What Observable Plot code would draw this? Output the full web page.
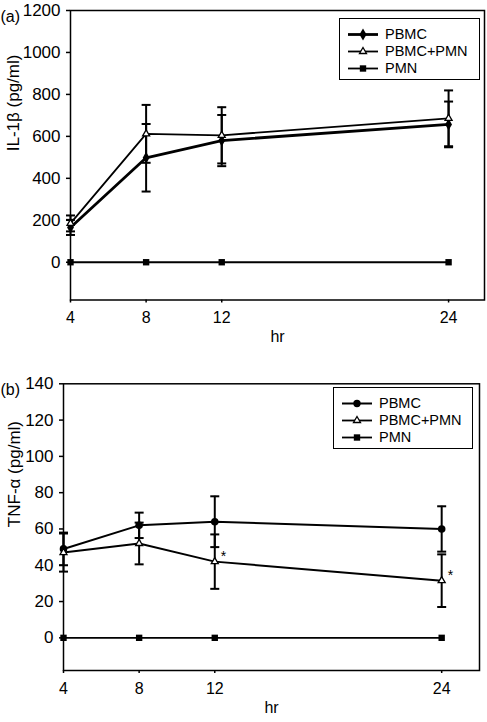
<!DOCTYPE html>
<html><head><meta charset="utf-8">
<script src="https://cdn.jsdelivr.net/npm/d3@7"></script>
<script src="https://cdn.jsdelivr.net/npm/@observablehq/plot@0.6"></script>
<style>
body{margin:0;background:#fff;font-family:"Liberation Sans",Arial,sans-serif;}
#wrap{position:relative;width:487px;height:722px;}
.legend{position:absolute;border:1.5px solid #000;box-sizing:border-box;background:#fff;}
.legend .row{position:absolute;left:0;height:17px;display:flex;align-items:center;font-size:14.5px;color:#000;}
.legend svg{display:block;}
</style></head>
<body><div id="wrap"></div>
<script>
// ---- data ----
const hours = [4, 8, 12, 24];
const seriesNames = ["PBMC", "PBMC+PMN", "PMN"];
// (a) IL-1β pg/ml
const il1bPBMC = [166, 498, 580, 657];
const il1bPBMCsd = [36, 161, 122, 109];
const il1bPBMCPMN = [185, 612, 605, 686];
const il1bPBMCPMNsd = [38, 138, 134, 133];
const il1bPMN = [0, 0, 0, 0];
// (b) TNF-α pg/ml
const tnfPBMC = [49, 62, 64, 60];
const tnfPBMCsd = [9, 7, 14, 12.5];
const tnfPBMCPMN = [47, 52, 42, 31.5];
const tnfPBMCPMNsd = [10.5, 11.5, 15, 14.5];
const tnfPMN = [0, 0, 0, 0];
const tnfSignificant = [false, false, true, true];
// ticks
const xTicks = [4, 8, 12, 24];
const yTicksA = [0, 200, 400, 600, 800, 1000, 1200];
const yTicksB = [0, 20, 40, 60, 80, 100, 120, 140];

const font = "Liberation Sans, Arial, sans-serif";
const cap = {draw(ctx, size){ const r = Math.sqrt(size/Math.PI); ctx.moveTo(-r,0); ctx.lineTo(r,0); }};

function table(vals, sds, name, sig){
  return hours.map((h,i)=>({h, v: vals[i], sd: sds ? sds[i] : 0,
    lo: vals[i] - (sds ? sds[i] : 0), hi: vals[i] + (sds ? sds[i] : 0), name, sig: sig ? sig[i] : false}));
}

function panel(o){
  const [s1, s2, s3] = o.series;
  const errs = [s1, s2];
  const marks = [
    Plot.frame({stroke:"#000", strokeWidth:1.5}),
    Plot.axisY({ticks:o.yTicks, tickFormat:d=>String(d), tickSize:4, tickPadding:6, fontSize:17, label:null, strokeWidth:1.5}),
    Plot.axisX({ticks:xTicks, tickFormat:d=>String(d), tickSize:3, tickPadding:9, fontSize:16, label:null, strokeWidth:1.5}),
    Plot.line(s3, {x:"h", y:"v", stroke:"#000", strokeWidth:1.8}),
    Plot.line(s2, {x:"h", y:"v", stroke:"#000", strokeWidth:o.w2}),
    Plot.line(s1, {x:"h", y:"v", stroke:"#000", strokeWidth:o.w1}),
  ];
  for (const s of errs){
    marks.push(Plot.ruleX(s, {x:"h", y1:"lo", y2:"hi", stroke:"#000", strokeWidth:2}));
    marks.push(Plot.dot(s, {x:"h", y:"lo", symbol:cap, r:4.5, stroke:"#000", fill:"none", strokeWidth:2}));
    marks.push(Plot.dot(s, {x:"h", y:"hi", symbol:cap, r:4.5, stroke:"#000", fill:"none", strokeWidth:2}));
  }
  marks.push(
    Plot.dot(s3, {x:"h", y:"v", symbol:"square", r:3.6, fill:"#000"}),
    Plot.dot(s1, {x:"h", y:"v", symbol:o.sym1, r:o.r1, fill:"#000"}),
    Plot.dot(s2, {x:"h", y:"v", symbol:"triangle", r:2.6, fill:"#fff", stroke:"#000", strokeWidth:1.3}),
    Plot.text(s2.filter(d=>d.sig), {x:"h", y:"v", text:()=>"*", dx:6, dy:-5, fontSize:14, textAnchor:"start"}),
    Plot.text([o.tag], {frameAnchor:"top-left", dx:-o.ml, textAnchor:"start", fontSize:16}),
    Plot.text([o.ylabel], {frameAnchor:"left", rotate:-90, dx:o.ydx, dy:o.ydy, fontSize:17}),
    Plot.text(["hr"], {frameAnchor:"bottom", dy:o.hrdy, fontSize:16})
  );
  return Plot.plot({
    width:487, height:o.height,
    marginLeft:o.ml, marginRight:o.mr, marginTop:o.mt, marginBottom:o.mb,
    style:{fontFamily:font, fontSize:"15px", color:"#000", background:"#fff", overflow:"visible"},
    x:{domain:o.xdom, axis:null},
    y:{domain:o.ydom, axis:null},
    marks
  });
}

const wrap = document.getElementById("wrap");
const A = panel({
  series:[table(il1bPBMC, il1bPBMCsd, "PBMC"), table(il1bPBMCPMN, il1bPBMCPMNsd, "PBMC+PMN"), table(il1bPMN, null, "PMN")],
  yTicks:yTicksA, ydom:[-180, 1200], xdom:[4, 25.9],
  height:360, ml:70, mr:3, mt:10, mb:60.5,
  w1:2.8, w2:1.8, sym1:"diamond", r1:3.6,
  tag:"(a)", ylabel:"IL-1β (pg/ml)", ydx:-57, ydy:-4, hrdy:42
});
const B = panel({
  series:[table(tnfPBMC, tnfPBMCsd, "PBMC"), table(tnfPBMCPMN, tnfPBMCPMNsd, "PBMC+PMN", tnfSignificant), table(tnfPMN, null, "PMN")],
  yTicks:yTicksB, ydom:[-18, 140], xdom:[4, 26],
  height:362, ml:63, mr:8, mt:23.3, mb:52,
  w1:2, w2:2, sym1:"circle", r1:3.8,
  tag:"(b)", ylabel:"TNF-α (pg/ml)", ydx:-49, ydy:0, hrdy:42
});
A.style.display = "block"; B.style.display = "block";
wrap.appendChild(A); wrap.appendChild(B);

// legends (HTML overlay)
function legend(left, top, w, h, rows, sym1, w1){
  const div = document.createElement("div");
  div.className = "legend";
  Object.assign(div.style, {left:left+"px", top:top+"px", width:w+"px", height:h+"px"});
  const syms = [sym1, "triangle", "square"];
  const widths = [w1, 1.8, 1.8];
  seriesNames.forEach((name, i) => {
    const row = document.createElement("div");
    row.className = "row";
    row.style.top = (rows[i] - top - 8.5) + "px";
    row.style.left = "8px";
    const s = d3.create("svg").attr("width", 37).attr("height", 17);
    s.append("line").attr("x1", 0).attr("x2", 30).attr("y1", 8.5).attr("y2", 8.5).attr("stroke", "#000").attr("stroke-width", widths[i]);
    const symType = {diamond:d3.symbolDiamond, circle:d3.symbolCircle, triangle:d3.symbolTriangle, square:d3.symbolSquare}[syms[i]];
    const size = syms[i] === "triangle" ? 2.6*2.6*Math.PI : (syms[i] === "square" ? 3.6*3.6*Math.PI : 3.7*3.7*Math.PI);
    s.append("path").attr("d", d3.symbol(symType, size)()).attr("transform", "translate(15,8.5)")
      .attr("fill", syms[i] === "triangle" ? "#fff" : "#000").attr("stroke", syms[i] === "triangle" ? "#000" : "none").attr("stroke-width", 1.3);
    row.appendChild(s.node());
    const t = document.createElement("span");
    t.textContent = name;
    row.appendChild(t);
    div.appendChild(row);
  });
  wrap.appendChild(div);
}
legend(339, 18, 141, 62, [33, 50, 67], "diamond", 2.8);
legend(333, 387, 140, 62, [402, 419, 436], "circle", 2);
</script>
</body></html>
